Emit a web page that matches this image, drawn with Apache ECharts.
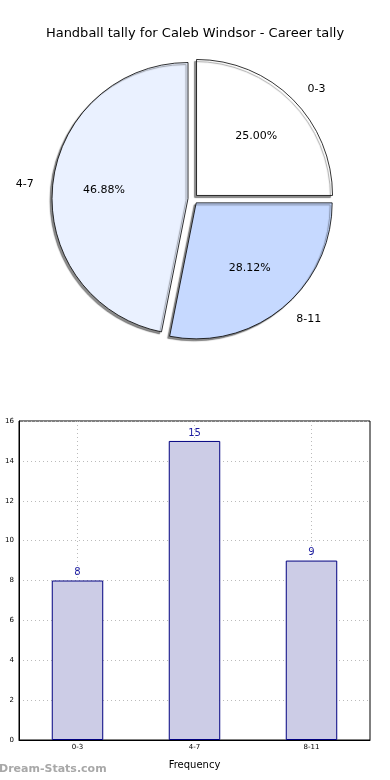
<!DOCTYPE html>
<html>
<head>
<meta charset="utf-8">
<script src="https://cdn.jsdelivr.net/npm/echarts@6/dist/echarts.min.js"></script>
<style>
html,body{margin:0;padding:0;background:#fff;}
#main{width:390px;height:780px;}
</style>
</head>
<body>
<div id="main"></div>
<script>
var titleText = 'Handball tally for Caleb Windsor - Career tally';
var categories = ['0-3', '4-7', '8-11'];
var values = [8, 15, 9];
var pieColors = ['#ffffff', '#eaf1ff', '#c6d9ff'];
var yTicks = [0, 2, 4, 6, 8, 10, 12, 14, 16];
var xName = 'Frequency';
var yName = 'Occurrences';
var watermark = 'Dream-Stats.com';

var FONT = 'DejaVu Sans';

var pieData = categories.map(function (c, i) {
  return { name: c, value: values[i], selected: true, itemStyle: { color: pieColors[i] } };
});
var pctData = categories.map(function (c, i) {
  return { name: c, value: values[i], selected: true };
});

var chart = echarts.init(document.getElementById('main'), null, { renderer: 'canvas' });
chart.setOption({
  animation: false,
  backgroundColor: '#ffffff',
  title: {
    text: titleText,
    left: 'center',
    top: 22,
    textStyle: { fontFamily: FONT, fontSize: 13, fontWeight: 'normal', color: '#000' }
  },
  graphic: [{
    type: 'text',
    left: -1,
    top: 764,
    style: { text: watermark, fontFamily: FONT, fontSize: 11, fontWeight: 'bold', fill: '#a8a8a8' }
  }],
  grid: {
    left: 19, right: 20, top: 421, bottom: 40,
    containLabel: false,
    outerBoundsMode: 'none',
    show: true, borderColor: '#000', borderWidth: 1, backgroundColor: 'transparent'
  },
  xAxis: {
    type: 'category',
    data: categories,
    name: xName,
    nameLocation: 'middle',
    nameGap: 20,
    nameTextStyle: { fontFamily: FONT, fontSize: 10, color: '#000' },
    axisLine: { show: true, lineStyle: { color: '#000' } },
    axisTick: { show: true, alignWithLabel: true, inside: true, length: 3, lineStyle: { color: '#999' } },
    axisLabel: { fontFamily: FONT, fontSize: 7, color: '#000', margin: 4 },
    splitLine: { show: true, alignWithLabel: true, lineStyle: { color: '#bbb', type: [1, 3], width: 1 } }
  },
  yAxis: {
    type: 'value',
    min: yTicks[0], max: yTicks[yTicks.length - 1], interval: yTicks[1] - yTicks[0],
    name: yName,
    nameLocation: 'middle',
    nameGap: 19,
    nameTextStyle: { fontFamily: FONT, fontSize: 10, color: '#000' },
    axisLine: { show: true, lineStyle: { color: '#000' } },
    axisTick: { show: false },
    axisLabel: { fontFamily: FONT, fontSize: 7, color: '#000', margin: 5 },
    splitLine: { show: true, lineStyle: { color: '#bbb', type: [1, 3], width: 1 } }
  },
  series: [
    {
      type: 'pie',
      center: [193, 199],
      radius: 136,
      startAngle: 0,
      clockwise: false,
      selectedMode: 'multiple',
      selectedOffset: 5,
      avoidLabelOverlap: false,
      silent: true,
      emphasis: { disabled: true, scale: false },
      itemStyle: {
        borderColor: '#000', borderWidth: 0.8,
        shadowColor: 'rgba(0,0,0,0.45)', shadowBlur: 1, shadowOffsetX: -2, shadowOffsetY: 2
      },
      label: {
        show: true, position: 'outside', formatter: '{b}',
        fontFamily: FONT, fontSize: 11, color: '#000', distanceToLabelLine: 5
      },
      labelLine: { show: false, length: 14, length2: 0 },
      data: pieData
    },
    {
      type: 'pie',
      center: [193, 199],
      radius: 163,
      startAngle: 0,
      clockwise: false,
      selectedMode: 'multiple',
      selectedOffset: 5,
      avoidLabelOverlap: false,
      silent: true,
      z: 3,
      emphasis: { disabled: true, scale: false },
      itemStyle: { color: 'rgba(0,0,0,0)', borderWidth: 0 },
      label: {
        show: true, position: 'inside',
        formatter: function (p) { return p.percent.toFixed(2) + '%'; },
        fontFamily: FONT, fontSize: 11, color: '#000'
      },
      labelLine: { show: false },
      data: pctData
    },
    {
      type: 'bar',
      data: values,
      barWidth: '44%',
      itemStyle: { color: '#ccccE6', borderColor: '#000080', borderWidth: 1 },
      label: {
        show: true, position: 'top', distance: 3,
        fontFamily: FONT, fontSize: 10, color: '#1a1aa0'
      },
      emphasis: { disabled: true }
    }
  ]
});
</script>
</body>
</html>
